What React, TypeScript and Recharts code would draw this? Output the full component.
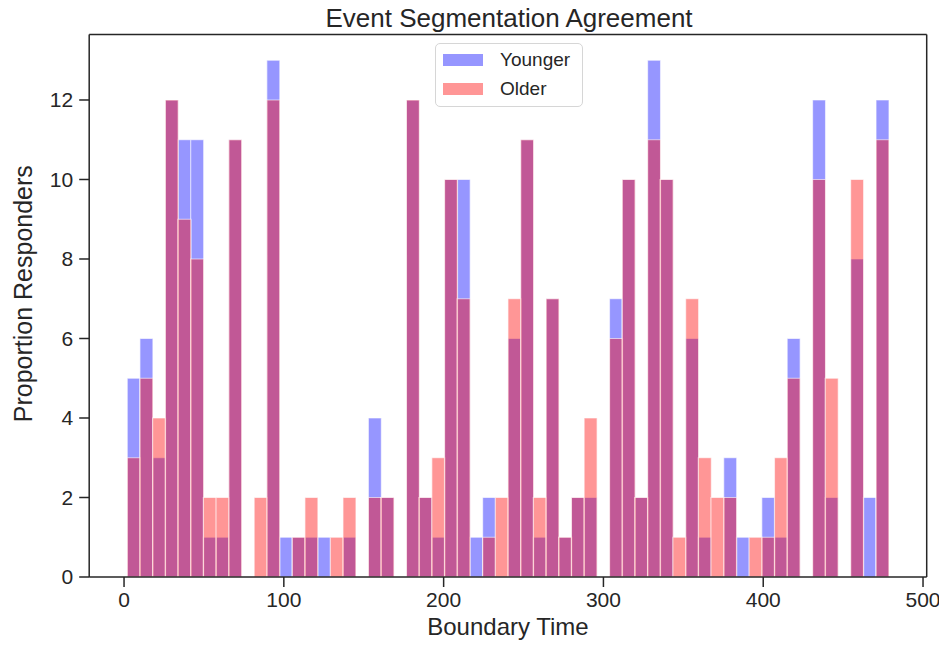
import { BarChart, Bar, XAxis, YAxis, Legend, ReferenceLine } from "recharts";

// histogram bin centres (boundary time) and counts per group
const binCenters = [
  5.97, 13.91, 21.85, 29.8, 37.74, 45.68, 53.62, 61.56, 69.51, 77.45,
  85.39, 93.33, 101.27, 109.22, 117.16, 125.1, 133.04, 140.98, 148.93, 156.87,
  164.81, 172.75, 180.69, 188.64, 196.58, 204.52, 212.46, 220.4, 228.35, 236.29,
  244.23, 252.17, 260.11, 268.06, 276.0, 283.94, 291.88, 299.82, 307.77, 315.71,
  323.65, 331.59, 339.53, 347.48, 355.42, 363.36, 371.3, 379.24, 387.19, 395.13,
  403.07, 411.01, 418.95, 426.9, 434.84, 442.78, 450.72, 458.66, 466.61, 474.55,
];

const younger = [
  5, 6, 3, 12, 11, 11, 1, 1, 11, 0,
  0, 13, 1, 1, 1, 1, 0, 1, 0, 4,
  2, 0, 12, 2, 1, 10, 10, 1, 2, 0,
  6, 11, 1, 7, 1, 2, 2, 0, 7, 10,
  2, 13, 10, 0, 6, 1, 0, 3, 1, 0,
  2, 1, 6, 0, 12, 2, 0, 8, 2, 12,
];

const older = [
  3, 5, 4, 12, 9, 8, 2, 2, 11, 0,
  2, 12, 0, 1, 2, 0, 1, 2, 0, 2,
  2, 0, 12, 2, 3, 10, 7, 0, 1, 2,
  7, 11, 2, 7, 1, 2, 4, 0, 6, 10,
  2, 11, 10, 1, 7, 3, 2, 2, 0, 1,
  1, 3, 5, 0, 10, 5, 0, 10, 0, 11,
];

const xTicks = [0, 100, 200, 300, 400, 500];
const yTicks = [0, 2, 4, 6, 8, 10, 12];

const data = binCenters.map((t, i) => ({
  t,
  younger: younger[i],
  older: older[i],
}));

const ink = "#262626";
const font = "'Liberation Sans', Arial, sans-serif";
const xDomain = [-21.8, 502.3];
const yTop = 13.65;

const legendItems = [
  { label: "Younger", color: "rgba(0,0,255,0.41)" },
  { label: "Older", color: "rgba(255,0,0,0.41)" },
];

const LegendBox = () => (
  <div
    style={{
      position: "relative",
      width: 148,
      height: 64,
      boxSizing: "border-box",
      border: "1px solid #d6d6d6",
      borderRadius: 5,
      background: "rgba(255,255,255,0.8)",
      fontFamily: font,
      fontSize: 19,
      color: ink,
    }}
  >
    {legendItems.map((e, i) => (
      <div
        key={e.label}
        style={{
          position: "absolute",
          left: 7,
          top: 10 + i * 29,
          height: 12,
          display: "flex",
          alignItems: "center",
          whiteSpace: "nowrap",
        }}
      >
        <span style={{ display: "inline-block", width: 40, height: 12, background: e.color }} />
        <span style={{ marginLeft: 17 }}>{e.label}</span>
      </div>
    ))}
  </div>
);

const YLabel = ({ viewBox }: any) => {
  const cy = viewBox.y + viewBox.height / 2 - 12;
  return (
    <text
      x={15}
      y={cy}
      transform={`rotate(-90, 15, ${cy})`}
      textAnchor="middle"
      dominantBaseline="central"
      fill={ink}
      fontSize={25}
      fontFamily={font}
    >
      Proportion Responders
    </text>
  );
};

const XLabel = ({ viewBox }: any) => (
  <text
    x={viewBox.x + viewBox.width / 2}
    y={viewBox.y + 58}
    textAnchor="middle"
    fill={ink}
    fontSize={24}
    fontFamily={font}
  >
    Boundary Time
  </text>
);

export default function App() {
  const tick = { fill: ink, fontSize: 21, fontFamily: font };
  const line = { stroke: ink, strokeWidth: 1.5 };
  return (
    <div style={{ position: "relative", width: 935, height: 632 }}>
      <div
        style={{
          position: "absolute",
          left: 201,
          top: -3,
          width: 600,
          textAlign: "center",
          fontFamily: font,
          fontSize: 26,
          lineHeight: "26px",
          color: ink,
        }}
      >
        Event Segmentation Agreement
      </div>
      <BarChart
        width={935}
        height={632}
        data={data}
        margin={{ top: 26.4, right: 16.3, left: 0, bottom: 0 }}
        barCategoryGap={0}
        barGap={0}
      >
        <XAxis
          xAxisId="y"
          dataKey="t"
          type="number"
          domain={xDomain}
          ticks={xTicks}
          allowDataOverflow
          height={63}
          tick={tick}
          tickLine={line}
          axisLine={line}
          tickSize={10}
          tickMargin={5}
          label={<XLabel />}
        />
        <XAxis
          xAxisId="o"
          dataKey="t"
          type="number"
          domain={xDomain}
          allowDataOverflow
          orientation="top"
          height={0}
          hide
        />
        <YAxis
          type="number"
          domain={[0, yTop]}
          ticks={yTicks}
          allowDataOverflow
          width={81.2}
          tick={tick}
          tickLine={line}
          axisLine={line}
          tickSize={10}
          tickMargin={6}
          label={<YLabel />}
        />
        <Legend
          layout="vertical"
          align="center"
          verticalAlign="middle"
          content={<LegendBox />}
          wrapperStyle={{ left: 427, top: 35, width: 148, height: 64 }}
        />
        <Bar
          xAxisId="y"
          dataKey="younger"
          name="Younger"
          fill="#0000ff"
          fillOpacity={0.41}
          stroke="#ffffff"
          strokeOpacity={0.6}
          strokeWidth={1.2}
          isAnimationActive={false}
        />
        <Bar
          xAxisId="o"
          dataKey="older"
          name="Older"
          fill="#ff0000"
          fillOpacity={0.41}
          stroke="#ffffff"
          strokeOpacity={0.6}
          strokeWidth={1.2}
          isAnimationActive={false}
        />
        <ReferenceLine xAxisId="y" y={yTop} stroke={ink} strokeWidth={1.5} ifOverflow="visible" />
        <ReferenceLine xAxisId="y" x={xDomain[1]} stroke={ink} strokeWidth={1.5} ifOverflow="visible" />
      </BarChart>
    </div>
  );
}
